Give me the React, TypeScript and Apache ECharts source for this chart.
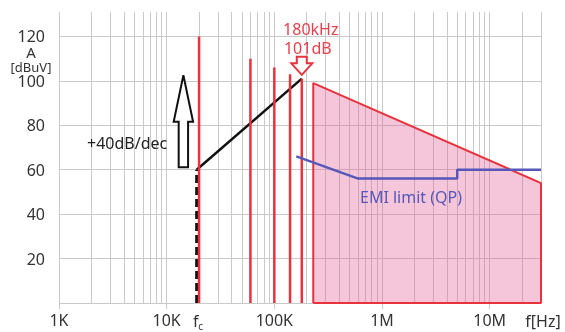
import React, { useEffect, useRef } from "react";
import * as echarts from "echarts";

// ---- data ----
const harmonicFreqs = [20000, 60000, 100000, 140000, 180000];
const harmonicDb = [120, 110, 106, 103, 101];
const envelopeFreqs = [230000, 230000, 30000000, 30000000, 230000];
const envelopeDb = [0, 99, 54, 0, 0];
const slopeFreqs = [19000, 180000];
const slopeDb = [60, 101];
const fcFreq = 19000;
const fcDb = 60;
const emiFreqs = [160000, 600000, 5000000, 5000000, 30000000];
const emiDb = [66, 56, 56, 60, 60];
const yTicks = [0, 20, 40, 60, 80, 100, 120];
const xDecades = [1000, 10000, 100000, 1000000, 10000000];
const xLabels = ["1K", "10K", "100K", "1M", "10M"];
const xMin = 1000;
const xMax = 30000000;
const yMin = 0;
const yMax = 131;
const bigArrowFreq = 14300;
const bigArrowDb = [102.5, 81.6, 61.1];
const peakFreq = 180000;
const peakDb = 102.7;

const FONT = '"Noto Sans", "Open Sans", sans-serif';
const GRID = "#c9c9c9";
const RED = "#e8323c";

function minorLines(): number[] {
  const out: number[] = [];
  xDecades.forEach((d) => {
    for (let k = 1; k <= 9; k++) {
      const v = d * k;
      if (v <= xMax) out.push(v);
    }
  });
  out.push(xMax);
  return out;
}

export default function App() {
  const ref = useRef<HTMLDivElement>(null);
  useEffect(() => {
    if (!ref.current) return;
    const chart = echarts.init(ref.current, undefined, { renderer: "svg" });
    const labelFor = (v: number) => {
      const idx = xDecades.findIndex((d) => Math.abs(Math.log10(d) - Math.log10(v)) < 1e-6);
      return idx >= 0 ? xLabels[idx] : "";
    };
    const harmonicSeries = harmonicFreqs.map((f, i) => ({
      type: "line",
      name: "h" + i,
      data: [
        [f, 0],
        [f, harmonicDb[i]],
      ],
      symbol: "none",
      lineStyle: { color: RED, width: 2.5 },
      z: 6,
      silent: true,
    }));
    chart.setOption({
      animation: false,
      grid: { left: 59, right: 24, top: 12, bottom: 29, containLabel: false, outerBoundsMode: "none" },
      xAxis: {
        type: "log",
        logBase: 10,
        min: xMin,
        max: xMax,
        splitLine: { show: false },
        axisLine: { show: false },
        axisTick: { show: true, length: 6, lineStyle: { color: GRID, width: 1 }, customValues: xDecades },
        axisLabel: {
          customValues: xDecades,
          formatter: (v: number) => labelFor(v),
          color: "#333",
          fontSize: 16,
          fontFamily: FONT,
          margin: 9,
        },
      },
      yAxis: {
        type: "value",
        min: yMin,
        max: yMax,
        interval: 20,
        splitLine: { show: false },
        axisLine: { show: false },
        axisTick: { show: false },
        axisLabel: {
          formatter: (v: number) => (v > 0 && v <= 120 ? String(v) : ""),
          color: "#333",
          fontSize: 16,
          fontFamily: FONT,
          margin: 14,
        },
      },
      series: [
        {
          type: "line",
          name: "grid",
          data: [[xMin, -10]],
          symbol: "none",
          lineStyle: { opacity: 0 },
          silent: true,
          z: 1,
          markLine: {
            z: 1,
            silent: true,
            symbol: "none",
            label: { show: false },
            lineStyle: { color: GRID, width: 1, type: "solid" },
            data: [
              ...minorLines().map((v) => ({ xAxis: v })),
              ...yTicks.map((v) => ({ yAxis: v })),
            ],
          },
        },
        {
          type: "line",
          name: "envelope",
          data: envelopeFreqs.map((f, i) => [f, envelopeDb[i]]),
          symbol: "none",
          lineStyle: { color: RED, width: 2 },
          areaStyle: { color: "rgba(226, 90, 150, 0.5)", origin: "start" },
          z: 3,
          silent: true,
        },
        {
          type: "line",
          name: "slope",
          data: slopeFreqs.map((f, i) => [f, slopeDb[i]]),
          symbol: "none",
          lineStyle: { color: "#111", width: 2.5 },
          z: 4,
          silent: true,
        },
        {
          type: "line",
          name: "fc",
          data: [
            [fcFreq, 0],
            [fcFreq, fcDb],
          ],
          symbol: "none",
          lineStyle: { color: "#111", width: 3, type: [8, 4] },
          z: 4,
          silent: true,
        },
        ...harmonicSeries,
        {
          type: "line",
          name: "emi",
          data: emiFreqs.map((f, i) => [f, emiDb[i]]),
          symbol: "none",
          lineStyle: { color: "#5558b8", width: 2.5 },
          z: 7,
          silent: true,
        },
      ],
    });

    const px = (x: number, y: number) => chart.convertToPixel({ gridIndex: 0 }, [x, y]) as number[];
    const [bx, bTip] = px(bigArrowFreq, bigArrowDb[0]);
    const bHead = px(bigArrowFreq, bigArrowDb[1])[1];
    const bBase = px(bigArrowFreq, bigArrowDb[2])[1];
    const [sx, sTip] = px(peakFreq, peakDb);
    const fcX = px(fcFreq, 0)[0];
    const endX = px(xMax, 0)[0];
    const axisY = px(xMin, 0)[1];
    const txt = (text: string, x: number, y: number, fill: string, size: number, align = "center") => ({
      type: "text",
      x,
      y,
      silent: true,
      z: 20,
      style: {
        text,
        fill,
        font: `${size}px ${FONT}`,
        fontSize: size,
        fontFamily: FONT,
        align,
        textAlign: align,
        verticalAlign: "middle",
        textVerticalAlign: "middle",
      },
    });

    chart.setOption({
      graphic: [
        {
          type: "polygon",
          z: 15,
          silent: true,
          shape: {
            points: [
              [bx, bTip],
              [bx + 9.7, bHead],
              [bx + 4.7, bHead],
              [bx + 4.7, bBase],
              [bx - 4.7, bBase],
              [bx - 4.7, bHead],
              [bx - 9.7, bHead],
            ],
          },
          style: { fill: "#fff", stroke: "#111", lineWidth: 2 },
        },
        {
          type: "polygon",
          z: 15,
          silent: true,
          shape: {
            points: [
              [sx, sTip],
              [sx + 10.5, sTip - 11.5],
              [sx + 5, sTip - 11.5],
              [sx + 5, sTip - 18],
              [sx - 5, sTip - 18],
              [sx - 5, sTip - 11.5],
              [sx - 10.5, sTip - 11.5],
            ],
          },
          style: { fill: "#fff", stroke: RED, lineWidth: 2 },
        },
        txt("180kHz", sx + 9, 29, "#e8404c", 16),
        txt("101dB", sx + 6, 48, "#e8404c", 16),
        txt("+40dB/dec", 87, 143, "#222", 16, "left"),
        txt("EMI limit (QP)", 360, 197, "#5558b8", 16, "left"),
        txt("A", 31, 52, "#333", 15),
        txt("[dBuV]", 31, 67, "#333", 13),
        txt("f", fcX - 1, axisY + 18, "#333", 16),
        txt("c", fcX + 4, axisY + 23, "#333", 10),
        txt("f[Hz]", endX + 2, axisY + 18, "#333", 16),
      ],
    });
    return () => chart.dispose();
  }, []);
  return (
    <div
      ref={ref}
      style={{ position: "fixed", left: 0, top: 0, width: 565, height: 332 }}
    />
  );
}
